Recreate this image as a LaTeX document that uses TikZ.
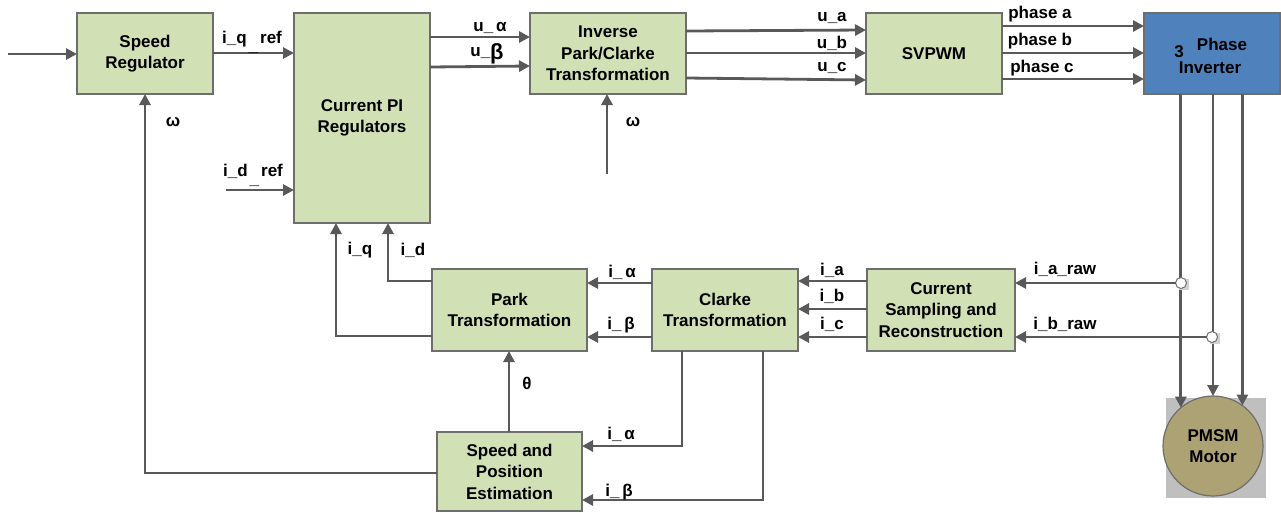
\documentclass[tikz,border=0pt]{standalone}
\usepackage{fontspec}
\setmainfont{Liberation Sans}
\usetikzlibrary{arrows.meta,calc}
\definecolor{boxfill}{HTML}{D2E0B5}
\definecolor{boxline}{HTML}{6E6E6E}
\definecolor{invfill}{HTML}{4F81BD}
\definecolor{wire}{HTML}{595959}
\definecolor{motorfill}{HTML}{ADA273}
\definecolor{motorbg}{HTML}{BFBFBF}
\tikzset{
  txt/.style={font=\fontsize{17}{21.5}\selectfont\bfseries},
  blk/.style={draw=boxline, fill=boxfill, line width=1.3pt, anchor=north west,
    inner sep=0pt, outer sep=0pt, align=center, txt, text=black},
  arr/.style={draw=wire, line width=2.8pt, -{Triangle[length=11pt,width=11pt]}},
  wireline/.style={draw=wire, line width=2.8pt},
  lbl/.style={txt, inner sep=0pt, text=black},
}
\begin{document}
\begin{tikzpicture}[x=1pt,y=-1pt]
\useasboundingbox (0,0) rectangle (1281,512);
% blocks
\node[blk, minimum width=136, minimum height=81] (sr) at (77,13) {Speed\\Regulator};
\node[blk, minimum width=136, minimum height=210] (pi) at (294,13) {Current PI\\Regulators};
\node[blk, minimum width=156, minimum height=81] (ipc) at (530,13) {Inverse\\Park/Clarke\\Transformation};
\node[blk, minimum width=136, minimum height=81] (sv) at (866,13) {SVPWM};
\node[blk, fill=invfill, minimum width=136, minimum height=81] (inv) at (1144,13) {};
\node[lbl] (inv3) at (1179,52) {3};
\node[lbl] (invp) at (1222,44) {Phase};
\node[lbl] (invi) at (1210,68) {Inverter};
\node[blk, minimum width=155, minimum height=82] (park) at (432,269) {Park\\Transformation};
\node[blk, minimum width=146, minimum height=82] (cl) at (652,269) {Clarke\\Transformation};
\node[blk, minimum width=148, minimum height=82] (cs) at (867,269) {Current\\Sampling and\\Reconstruction};
\node[blk, minimum width=145, minimum height=79] (spe) at (437,432) {Speed and\\Position\\Estimation};
% motor
\fill[motorbg] (1166,398) rectangle (1266,498);
\node[circle, draw=boxline, fill=motorfill, line width=1.2pt, minimum size=100, inner sep=0pt, outer sep=0pt, align=center, txt] (m) at (1213,446) {PMSM\\Motor};
% coordinates
\coordinate (in) at (8,54);
\coordinate (idin) at (226,190);
\coordinate (wsrc) at (607,174);
\coordinate (fb) at (145,473);
\coordinate (qd) at (336,336);
\coordinate (dd) at (388,281);
\coordinate (ca) at (682,446);
\coordinate (cb) at (763,500);
% top row
\draw[arr] (in) -- (sr.west |- in);
\draw[arr] (sr.east |- 0,53) -- (pi.west |- 0,53);
\node[lbl] (liq) at (252,42) {i\_q\hspace{2pt}\raisebox{-8pt}{\_}\hspace{2pt}ref};
\draw[arr] (idin) -- (pi.west |- idin);
\node[lbl] (lid) at (253,175) {i\_d\hspace{2pt}\raisebox{-8pt}{\_}\hspace{2pt}ref};
\draw[arr] (spe.west |- fb) -- (fb) -- (fb |- sr.south);
\node[lbl] (lw1) at (173,122) {ω};
\draw[arr] (pi.east |- 0,37) -- (ipc.west |- 0,37);
\node[lbl] (lua) at (490,28) {u\_\,α};
\draw[arr] (pi.east |- 0,67) -- (ipc.west |- 0,66);
\node[lbl] (lub) at (487,54) {u\_\raisebox{-3pt}{\fontsize{22}{22}\selectfont β}};
\draw[arr] (wsrc) -- (wsrc |- ipc.south);
\node[lbl] (lw2) at (633,122) {ω};
\draw[arr] (ipc.east |- 0,31) -- (sv.west |- 0,30);
\node[lbl] (lu1) at (832,18) {u\_a};
\draw[arr] (ipc.east |- 0,53) -- (sv.west |- 0,53);
\node[lbl] (lu2) at (832,43) {u\_b};
\draw[arr] (ipc.east |- 0,78) -- (sv.west |- 0,80);
\node[lbl] (lu3) at (832,68) {u\_c};
\draw[arr] (sv.east |- 0,26) -- (inv.west |- 0,26);
\node[lbl] (lpa) at (1040,14) {phase a};
\draw[arr] (sv.east |- 0,53) -- (inv.west |- 0,53);
\node[lbl] (lpb) at (1040,41) {phase b};
\draw[arr] (sv.east |- 0,79) -- (inv.west |- 0,79);
\node[lbl] (lpc) at (1042,68) {phase c};
% inverter to motor
\draw[arr] (inv.south -| m.130) -- (m.130);
\draw[arr] (inv.south -| m.north) -- (m.north);
\draw[arr] (inv.south -| m.54.5) -- (m.54.5);
% sensing points
\fill[motorbg!70] (1179,279) rectangle (1189,290);
\fill[motorbg!70] (1210,333) rectangle (1220,344);
\node[circle, draw=boxline, fill=white, line width=1pt, minimum size=11, inner sep=0pt, outer sep=0pt] (sa) at (1181,283) {};
\node[circle, draw=boxline, fill=white, line width=1pt, minimum size=11, inner sep=0pt, outer sep=0pt] (sb) at (1212,337) {};
\draw[arr] (sa.west) -- (cs.east |- sa);
\node[lbl] (lar) at (1065,269) {i\_a\_raw};
\draw[arr] (sb.west) -- (cs.east |- sb);
\node[lbl] (lbr) at (1065,324) {i\_b\_raw};
% current sampling to clarke
\draw[arr] (cs.west |- 0,281) -- (cl.east |- 0,281);
\node[lbl] (lia) at (832,270) {i\_a};
\draw[arr] (cs.west |- 0,309) -- (cl.east |- 0,309);
\node[lbl] (lib) at (832,296) {i\_b};
\draw[arr] (cs.west |- 0,337) -- (cl.east |- 0,337);
\node[lbl] (lic) at (832,324) {i\_c};
% clarke to park
\draw[arr] (cl.west |- 0,283) -- (park.east |- 0,283);
\node[lbl] (lal1) at (622,272) {i\_\,α};
\draw[arr] (cl.west |- 0,337) -- (park.east |- 0,337);
\node[lbl] (lbe1) at (621,325) {i\_\,β};
% park to PI
\draw[arr] (park.west |- qd) -- (qd) -- (qd |- pi.south);
\node[lbl] (liqq) at (360,250) {i\_q};
\draw[arr] (park.west |- dd) -- (dd) -- (dd |- pi.south);
\node[lbl] (lidd) at (413,250) {i\_d};
% theta
\draw[arr] (spe.north -| 509,0) -- (park.south -| 509,0);
\node[lbl] (lth) at (527,383) {θ};
% clarke to estimator
\draw[arr] (cl.south -| ca) -- (ca) -- (spe.east |- ca);
\node[lbl] (lal2) at (621,434) {i\_\,α};
\draw[arr] (cl.south -| cb) -- (cb) -- (spe.east |- cb);
\node[lbl] (lbe2) at (619,492) {i\_\,β};
\end{tikzpicture}
\end{document}
